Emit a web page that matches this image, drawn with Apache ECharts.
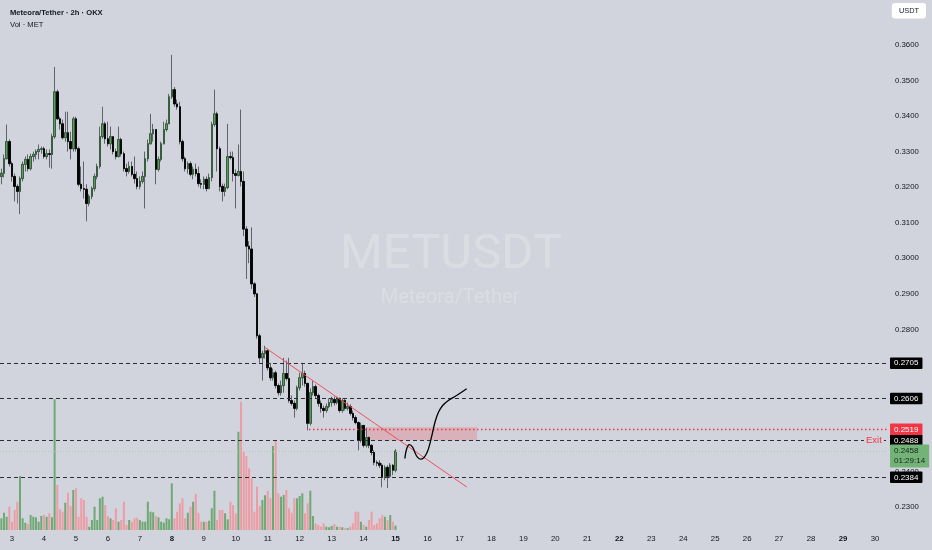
<!DOCTYPE html>
<html><head><meta charset="utf-8">
<script src="https://cdn.jsdelivr.net/npm/echarts@6/dist/echarts.min.js"></script>
<style>html,body{margin:0;padding:0;background:#d1d4dc}#c{width:932px;height:550px}</style>
</head><body><div id="c"></div>
<script>
// ---- time slots (2h candles), first slot = day 2 16:00 ----
const firstDay = 2, firstHour = 16, slotHours = 2, slotCount = 333;
const boldDays = [8, 15, 22, 29];
const priceTicks = [0.23,0.24,0.25,0.26,0.27,0.28,0.29,0.30,0.31,0.32,0.33,0.34,0.35,0.36];

// ---- OHLC (USDT) ----
const opens = [0.3230,0.3239,0.3280,0.3328,0.3266,0.3230,0.3202,0.3188,0.3224,0.3264,0.3278,0.3252,0.3286,0.3292,0.3300,0.3306,0.3308,0.3286,0.3294,0.3292,
0.3342,0.3468,0.3392,0.3378,0.3339,0.3353,0.3328,0.3308,0.3392,0.3308,0.3208,0.3196,0.3194,0.3154,0.3174,0.3196,0.3230,0.3258,0.3342,0.3378,
0.3336,0.3322,0.3342,0.3300,0.3286,0.3334,0.3294,0.3252,0.3244,0.3258,0.3236,0.3224,0.3202,0.3216,0.3230,0.3280,0.3322,0.3350,0.3362,0.3250,
0.3278,0.3322,0.3362,0.3378,0.3454,0.3474,0.3434,0.3426,0.3328,0.3280,0.3252,0.3266,0.3236,0.3250,0.3238,0.3210,0.3208,0.3222,0.3196,0.3227,
0.3376,0.3406,0.3308,0.3202,0.3188,0.3199,0.3286,0.3283,0.3238,0.3233,0.3244,0.3216,0.3082,0.3034,0.3026,0.2928,0.2900,0.2782,0.2720,0.2732,
0.2740,0.2692,0.2664,0.2678,0.2642,0.2622,0.2642,0.2676,0.2662,0.2600,0.2592,0.2578,0.2636,0.2664,0.2676,0.2648,0.2536,0.2622,0.2639,0.2614,
0.2592,0.2578,0.2572,0.2583,0.2594,0.2603,0.2594,0.2606,0.2572,0.2600,0.2578,0.2583,0.2564,0.2552,0.2538,0.2488,0.2530,0.2474,0.2496,0.2474,
0.2454,0.2426,0.2424,0.2418,0.2384,0.2412,0.2387,0.2418,0.2404];
const closes = [0.3239,0.3280,0.3328,0.3266,0.3230,0.3202,0.3188,0.3224,0.3264,0.3278,0.3252,0.3286,0.3292,0.3300,0.3306,0.3308,0.3286,0.3294,0.3292,0.3342,
0.3468,0.3392,0.3378,0.3339,0.3353,0.3328,0.3308,0.3392,0.3308,0.3208,0.3196,0.3194,0.3154,0.3174,0.3196,0.3230,0.3258,0.3342,0.3378,0.3336,
0.3322,0.3342,0.3300,0.3286,0.3334,0.3294,0.3252,0.3244,0.3258,0.3236,0.3224,0.3202,0.3216,0.3230,0.3280,0.3322,0.3350,0.3362,0.3250,0.3278,
0.3322,0.3362,0.3378,0.3454,0.3474,0.3434,0.3426,0.3328,0.3280,0.3252,0.3266,0.3236,0.3250,0.3238,0.3210,0.3208,0.3222,0.3196,0.3227,0.3376,
0.3406,0.3308,0.3202,0.3188,0.3199,0.3286,0.3283,0.3238,0.3233,0.3244,0.3216,0.3082,0.3034,0.3026,0.2928,0.2900,0.2782,0.2720,0.2732,0.2740,
0.2692,0.2664,0.2678,0.2642,0.2622,0.2642,0.2676,0.2662,0.2600,0.2592,0.2578,0.2636,0.2664,0.2676,0.2648,0.2536,0.2622,0.2639,0.2614,0.2592,
0.2578,0.2572,0.2583,0.2594,0.2603,0.2594,0.2606,0.2572,0.2600,0.2578,0.2583,0.2564,0.2552,0.2538,0.2488,0.2530,0.2474,0.2496,0.2474,0.2454,
0.2426,0.2424,0.2418,0.2384,0.2412,0.2387,0.2418,0.2404,0.2458];
const highs = [0.3252,0.3292,0.3376,0.3334,0.3272,0.3238,0.3208,0.3230,0.3272,0.3286,0.3292,0.3294,0.3300,0.3306,0.3320,0.3314,0.3314,0.3306,0.3306,0.3350,
0.3538,0.3474,0.3398,0.3390,0.3412,0.3412,0.3356,0.3398,0.3398,0.3314,0.3258,0.3272,0.3208,0.3180,0.3202,0.3238,0.3266,0.3370,0.3426,0.3384,
0.3384,0.3370,0.3342,0.3308,0.3370,0.3339,0.3300,0.3266,0.3272,0.3272,0.3286,0.3244,0.3230,0.3244,0.3300,0.3334,0.3406,0.3378,0.3362,0.3286,
0.3328,0.3384,0.3390,0.3462,0.3572,0.3482,0.3446,0.3440,0.3334,0.3286,0.3272,0.3272,0.3258,0.3266,0.3258,0.3222,0.3230,0.3230,0.3238,0.3384,
0.3474,0.3412,0.3314,0.3210,0.3210,0.3378,0.3300,0.3300,0.3250,0.3320,0.3418,0.3244,0.3090,0.3048,0.3087,0.2933,0.2902,0.2788,0.2740,0.2754,
0.2746,0.2706,0.2690,0.2684,0.2648,0.2656,0.2720,0.2712,0.2720,0.2614,0.2600,0.2642,0.2678,0.2706,0.2684,0.2650,0.2634,0.2656,0.2645,0.2620,
0.2600,0.2586,0.2592,0.2606,0.2611,0.2611,0.2611,0.2608,0.2606,0.2606,0.2594,0.2589,0.2572,0.2558,0.2541,0.2538,0.2530,0.2524,0.2499,0.2477,
0.2460,0.2432,0.2432,0.2424,0.2418,0.2418,0.2424,0.2421,0.2463];
const lows = [0.3208,0.3227,0.3278,0.3258,0.3216,0.3160,0.3154,0.3124,0.3216,0.3244,0.3244,0.3247,0.3272,0.3278,0.3278,0.3294,0.3280,0.3278,0.3255,0.3252,
0.3336,0.3390,0.3362,0.3334,0.3328,0.3300,0.3278,0.3300,0.3300,0.3202,0.3188,0.3168,0.3104,0.3146,0.3166,0.3188,0.3222,0.3252,0.3336,0.3322,
0.3314,0.3306,0.3292,0.3278,0.3283,0.3286,0.3244,0.3230,0.3238,0.3230,0.3210,0.3194,0.3194,0.3210,0.3140,0.3272,0.3320,0.3328,0.3208,0.3244,
0.3272,0.3320,0.3356,0.3378,0.3448,0.3426,0.3418,0.3320,0.3272,0.3244,0.3238,0.3230,0.3222,0.3230,0.3202,0.3196,0.3194,0.3188,0.3194,0.3216,
0.3370,0.3244,0.3188,0.3160,0.3174,0.3194,0.3278,0.3216,0.3140,0.3230,0.3202,0.3062,0.2942,0.2986,0.2914,0.2891,0.2774,0.2706,0.2656,0.2718,
0.2684,0.2656,0.2656,0.2634,0.2614,0.2614,0.2622,0.2656,0.2594,0.2586,0.2552,0.2572,0.2628,0.2642,0.2639,0.2516,0.2530,0.2614,0.2606,0.2583,
0.2566,0.2552,0.2566,0.2578,0.2583,0.2586,0.2589,0.2566,0.2566,0.2572,0.2572,0.2558,0.2544,0.2533,0.2460,0.2482,0.2468,0.2468,0.2466,0.2446,
0.2418,0.2415,0.2410,0.2356,0.2376,0.2354,0.2382,0.2390,0.2398];
// ---- volume (K MET) ----
const volumes = [328,484,372,652,232,560,792,1512,328,204,168,420,372,356,232,392,420,372,468,356,
3660,1260,580,512,764,1044,672,1120,1168,372,888,840,372,92,280,652,280,888,932,700,
392,328,280,608,232,280,792,140,280,232,328,344,280,232,232,792,512,496,392,356,
232,204,328,300,1308,328,512,748,888,328,484,652,792,1008,484,232,232,232,260,608,
1100,280,560,560,468,300,792,700,468,2752,3592,2192,2072,1728,1448,512,1212,672,840,972,
1100,888,2352,2492,1028,932,980,1120,608,484,888,888,952,1028,468,748,1100,392,188,140,
92,188,92,76,112,168,92,92,76,48,48,92,188,512,512,232,140,92,280,512,
140,188,328,420,372,280,420,232,123.14];

// ---- drawings ----
const levelLines = [0.2705, 0.2606, 0.2488, 0.2384];
const exitLevel = 0.2519, exitStart = 115.5;
const lastPrice = 0.2458, countdown = '01:29:14';
const zone = {from: 137.3, to: 178.6, low: 0.2488, high: 0.2525};
const trendX = [99.0, 174.7], trendY = [0.2749, 0.2357];
const pathX = [151.5,152.2,153.2,154.4,155.3,156.3,157.4,158.7,159.9,160.9,161.8,162.8,164.1,165.7,167.8,170.9,174.7];
const pathY = [0.2437,0.2465,0.2476,0.2469,0.2453,0.2440,0.2435,0.2440,0.2455,0.2479,0.2507,0.2539,0.2567,0.2586,0.2600,0.2614,0.2633];
const exitTag = {x: 327.6, y: 0.2488, text: 'Exit'};

// ---- build ----
const categories = [];
for (let k = 0; k < slotCount; k++) {
  const h = firstHour + k * slotHours;
  const d = firstDay + Math.floor(h / 24), hh = h % 24;
  categories.push(d + ' ' + String(hh).padStart(2, '0') + ':00');
}
const wickData = opens.map((o, i) => [o, closes[i], lows[i], highs[i]]);
const bodyData = opens.map((o, i) => [o, closes[i], Math.min(o, closes[i]), Math.max(o, closes[i])]);
const volData = volumes.map((v, i) => ({
  value: v,
  itemStyle: {color: closes[i] >= opens[i] ? '#6ea872' : '#ec9ca5'}
}));

const FONT = 'Liberation Sans, Arial, sans-serif';
const TXT = '#131722';
const GRID_W = 887;
const boxLabel = (bg, fg) => ({
  show: true, position: 'end', distance: 3, color: fg, backgroundColor: bg,
  padding: [2, 4, 1.5, 4], fontSize: 8, fontFamily: FONT, borderRadius: 1
});

const chart = echarts.init(document.getElementById('c'), null, {renderer: 'canvas'});
chart.setOption({
  backgroundColor: '#d1d4dc',
  animation: false,
  title: [
    {text: 'METUSDT', left: 446, top: 226, textAlign: 'center',
     textStyle: {fontSize: 49, fontWeight: 'normal', fontFamily: 'Roboto, sans-serif', color: 'rgba(255,255,255,0.22)'}},
    {text: 'Meteora/Tether', left: 445, top: 283, textAlign: 'center',
     textStyle: {fontSize: 20, fontWeight: 'normal', fontFamily: 'Roboto, sans-serif', color: 'rgba(255,255,255,0.22)'}},
    {text: 'Meteora/Tether · 2h · OKX', left: 5, top: 4,
     textStyle: {fontSize: 7.6, fontWeight: 'bold', fontFamily: FONT, color: TXT}},
    {text: 'Vol · MET', left: 5, top: 16,
     textStyle: {fontSize: 7.6, fontWeight: 'normal', fontFamily: FONT, color: TXT}},
    {text: 'USDT', right: 6, top: 3, backgroundColor: '#ffffff', borderRadius: 3, padding: [4.5, 7, 4, 7],
     textStyle: {fontSize: 7.4, fontWeight: 'normal', fontFamily: FONT, color: TXT}}
  ],
  grid: [
    {left: 0, top: 9.3, width: GRID_W, height: 533.5},
    {left: 0, top: 330, width: GRID_W, height: 200}
  ],
  xAxis: [
    {type: 'category', gridIndex: 0, data: categories, boundaryGap: true, show: false},
    {type: 'category', gridIndex: 1, data: categories, boundaryGap: true,
     axisLine: {show: false}, axisTick: {show: false}, splitLine: {show: false},
     axisLabel: {
       show: true, margin: 5, fontSize: 7.8, fontFamily: FONT, color: TXT,
       interval: (i, v) => v.endsWith(' 00:00'),
       formatter: v => { const d = parseInt(v, 10); return boldDays.includes(d) ? '{b|' + d + '}' : String(d); },
       rich: {b: {fontWeight: 'bold', fontSize: 7.8, fontFamily: FONT, color: TXT}}
     }},
    {type: 'value', gridIndex: 0, min: -0.5, max: slotCount - 0.5, show: false}
  ],
  yAxis: [
    {type: 'value', gridIndex: 0, position: 'right', min: 0.22, max: 0.37, interval: 0.01,
     axisLine: {show: false}, axisTick: {show: false}, splitLine: {show: false},
     axisLabel: {margin: 8, fontSize: 7.8, fontFamily: FONT, color: TXT,
       formatter: v => priceTicks.some(t => Math.abs(t - v) < 1e-6) ? v.toFixed(4) : ''}},
    {type: 'value', gridIndex: 1, min: 0, max: 5600, show: false}
  ],
  series: [
    {type: 'candlestick', xAxisIndex: 0, yAxisIndex: 0, data: wickData, barWidth: 2, z: 3,
     itemStyle: {color: 'rgba(0,0,0,0)', color0: 'rgba(0,0,0,0)', borderColor: '#60636b', borderColor0: '#60636b', borderWidth: 1}},
    {type: 'candlestick', xAxisIndex: 0, yAxisIndex: 0, data: bodyData, barWidth: 2, z: 4,
     itemStyle: {color: '#5d9a62', color0: '#000000', borderColor: '#2e5632', borderColor0: '#000000', borderWidth: 0.8}},
    {type: 'bar', xAxisIndex: 1, yAxisIndex: 1, data: volData, barWidth: 2, z: 2,
     markLine: {symbol: 'none', silent: true, precision: 2, lineStyle: {opacity: 0},
       data: [{yAxis: volumes[volumes.length - 1],
         label: Object.assign(boxLabel('#3f9645', '#ffffff'), {formatter: p => Number(p.value).toFixed(2) + 'K'})}]}},
    {type: 'line', xAxisIndex: 2, yAxisIndex: 0, z: 6, symbol: 'none',
     data: trendX.map((x, i) => [x, trendY[i]]),
     lineStyle: {color: '#f0505c', width: 1},
     markArea: {silent: true, itemStyle: {color: 'rgba(242,54,69,0.22)'},
       data: [[{coord: [zone.from, zone.high]}, {coord: [zone.to, zone.low]}]]},
     markLine: {symbol: 'none', silent: true, precision: 4,
       data: [
         ...levelLines.map(v => ({yAxis: v, lineStyle: {type: [4, 3], color: '#2b2e36', width: 1},
           label: Object.assign(boxLabel('#000000', '#ffffff'), {formatter: () => v.toFixed(4)})})),
         [{coord: [exitStart, exitLevel], lineStyle: {type: [1.5, 2.5], color: '#f23645', width: 1.3},
           label: Object.assign(boxLabel('#f23645', '#ffffff'), {formatter: () => exitLevel.toFixed(4)})},
          {coord: [slotCount - 0.5, exitLevel]}],
         {yAxis: lastPrice, lineStyle: {type: [1, 2], color: '#b3c9b7', width: 1},
          label: Object.assign(boxLabel('#74b377', '#14261a'), {
            formatter: () => lastPrice.toFixed(4) + '\n' + countdown, lineHeight: 10, offset: [0, 5], padding: [2, 4, 1, 4]})}
       ]},
     markPoint: {silent: true, symbol: 'rect', symbolSize: [20, 10], itemStyle: {color: '#d1d4dc'},
       data: [{coord: [exitTag.x, exitTag.y],
         label: {show: true, position: 'inside', formatter: exitTag.text, color: '#f23645', fontSize: 9.5, fontFamily: FONT}}]}},
    {type: 'line', xAxisIndex: 2, yAxisIndex: 0, z: 6, symbol: 'none', smooth: 0.4,
     data: pathX.map((x, i) => [x, pathY[i]]),
     lineStyle: {color: '#000000', width: 1.3}}
  ]
});
</script></body></html>
